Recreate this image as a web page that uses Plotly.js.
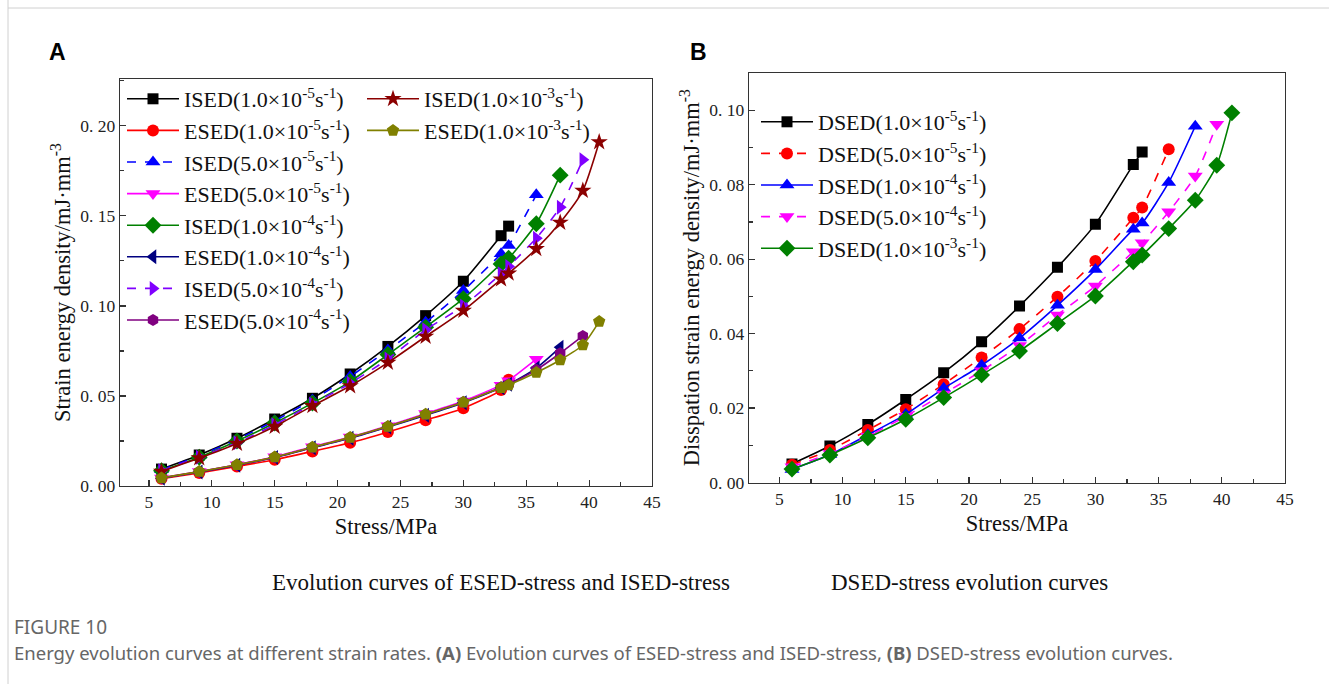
<!DOCTYPE html>
<html><head><meta charset="utf-8">
<script src="https://cdn.plot.ly/plotly-3.0.1.min.js"></script>
<style>html,body{margin:0;padding:0;background:#fff}#chart{width:1329px;height:684px}</style>
</head><body><div id="chart"></div>
<script>
// ---------- Panel A data (stress in MPa, strain energy density in mJ·mm^-3) ----------
const xA_1e5 = [6, 9, 12, 15, 18, 21, 24, 27, 30, 33, 33.6];
const xA_5e5 = [6, 9, 12, 15, 18, 21, 24, 27, 30, 33, 33.6, 35.8];
const xA_1e4 = [6, 9, 12, 15, 18, 21, 24, 27, 30, 33, 33.6, 35.8, 37.7];
const xA_5e4 = [6, 9, 12, 15, 18, 21, 24, 27, 30, 33, 33.6, 35.8, 37.7, 39.5];
const xA_1e3 = [6, 9, 12, 15, 18, 21, 24, 27, 30, 33, 33.6, 35.8, 37.7, 39.5, 40.8];

const ISED_1e5 = [0.0094, 0.0172, 0.0265, 0.0372, 0.0487, 0.0622, 0.0775, 0.0946, 0.1137, 0.1390, 0.1443];
const ESED_1e5 = [0.0040, 0.0072, 0.0108, 0.0146, 0.0192, 0.0240, 0.0300, 0.0365, 0.0432, 0.0533, 0.0590];
const ISED_5e5 = [0.0090, 0.0168, 0.0258, 0.0362, 0.0478, 0.0608, 0.0755, 0.0909, 0.1085, 0.1289, 0.1335, 0.1617];
const ESED_5e5 = [0.0045, 0.0080, 0.0118, 0.0162, 0.0218, 0.0272, 0.0335, 0.0402, 0.0472, 0.0560, 0.0585, 0.0704];
const ISED_1e4 = [0.0085, 0.0160, 0.0250, 0.0350, 0.0460, 0.0580, 0.0730, 0.0882, 0.1040, 0.1233, 0.1265, 0.1456, 0.1726];
const ESED_1e4 = [0.0043, 0.0078, 0.0115, 0.0158, 0.0212, 0.0265, 0.0328, 0.0393, 0.0462, 0.0545, 0.0565, 0.0655, 0.0770];
const ISED_5e4 = [0.0085, 0.0160, 0.0240, 0.0340, 0.0455, 0.0570, 0.0705, 0.0867, 0.1000, 0.1178, 0.1219, 0.1376, 0.1548, 0.1811];
const ESED_5e4 = [0.0044, 0.0079, 0.0117, 0.0160, 0.0214, 0.0268, 0.0331, 0.0397, 0.0466, 0.0548, 0.0565, 0.0645, 0.0737, 0.0833];
const ISED_1e3 = [0.0080, 0.0155, 0.0235, 0.0330, 0.0445, 0.0555, 0.0685, 0.0830, 0.0974, 0.1148, 0.1181, 0.1317, 0.1463, 0.1640, 0.1910];
const ESED_1e3 = [0.0045, 0.0080, 0.0118, 0.0161, 0.0215, 0.0270, 0.0331, 0.0398, 0.0465, 0.0546, 0.0561, 0.0630, 0.0700, 0.0783, 0.0913];

// ---------- Panel B data ----------
const xB_1e5 = [6, 9, 12, 15, 18, 21, 24, 27, 30, 33, 33.7];
const xB_5e5 = [6, 9, 12, 15, 18, 21, 24, 27, 30, 33, 33.7, 35.8];
const xB_1e4 = [6, 9, 12, 15, 18, 21, 24, 27, 30, 33, 33.7, 35.8, 37.9];
const xB_5e4 = [6, 9, 12, 15, 18, 21, 24, 27, 30, 33, 33.7, 35.8, 37.9, 39.6];
const xB_1e3 = [6, 9, 12, 15, 18, 21, 24, 27, 30, 33, 33.7, 35.8, 37.9, 39.6, 40.8];

const DSED_1e5 = [0.0050, 0.0098, 0.0156, 0.0223, 0.0295, 0.0378, 0.0474, 0.0578, 0.0694, 0.0854, 0.0888];
const DSED_5e5 = [0.0048, 0.0087, 0.0141, 0.0197, 0.0264, 0.0336, 0.0412, 0.0499, 0.0595, 0.0711, 0.0739, 0.0895];
const DSED_1e4 = [0.0035, 0.0075, 0.0128, 0.0183, 0.0253, 0.0315, 0.0388, 0.0476, 0.0572, 0.0680, 0.0697, 0.0806, 0.0957];
const DSED_5e4 = [0.0042, 0.0078, 0.0124, 0.0178, 0.0238, 0.0300, 0.0368, 0.0450, 0.0528, 0.0620, 0.0644, 0.0727, 0.0823, 0.0962];
const DSED_1e3 = [0.0036, 0.0074, 0.0120, 0.0170, 0.0228, 0.0289, 0.0353, 0.0427, 0.0501, 0.0593, 0.0611, 0.0682, 0.0758, 0.0852, 0.0993];

// ---------- ticks ----------
const xTicks = [5, 10, 15, 20, 25, 30, 35, 40, 45];
const yTicksA = [0, 0.05, 0.10, 0.15, 0.20];
const yTickTextA = ["0. 00", "0. 05", "0. 10", "0. 15", "0. 20"];
const yTicksB = [0, 0.02, 0.04, 0.06, 0.08, 0.10];
const yTickTextB = ["0. 00", "0. 02", "0. 04", "0. 06", "0. 08", "0. 10"];

const lab = (p, m, e) => `${p}(${m}×10<sup>-${e}</sup>s<sup>-1</sup>)`;

function tr(x, y, name, color, symbol, dash, xa, ya, legend, size) {
  return {
    type: 'scatter', mode: 'lines+markers', x: x, y: y, name: name,
    xaxis: xa, yaxis: ya, legend: legend,
    line: {color: color, width: 1.6, dash: dash, shape: 'spline', smoothing: 0.6},
    marker: {color: color, symbol: symbol, size: size || 12, line: {width: 0}}
  };
}

const data = [
  tr(xA_1e5, ISED_1e5, lab('ISED', '1.0', 5), '#000000', 'square', 'solid', 'x', 'y', 'legend', 11),
  tr(xA_1e5, ESED_1e5, lab('ESED', '1.0', 5), '#ff0000', 'circle', 'solid', 'x', 'y', 'legend', 12),
  tr(xA_5e5, ISED_5e5, lab('ISED', '5.0', 5), '#0000ff', 'triangle-up', 'dash', 'x', 'y', 'legend', 13),
  tr(xA_5e5, ESED_5e5, lab('ESED', '5.0', 5), '#ff00ff', 'triangle-down', 'solid', 'x', 'y', 'legend', 13),
  tr(xA_1e4, ISED_1e4, lab('ISED', '1.0', 4), '#008000', 'diamond', 'solid', 'x', 'y', 'legend', 13),
  tr(xA_1e4, ESED_1e4, lab('ESED', '1.0', 4), '#000080', 'triangle-left', 'solid', 'x', 'y', 'legend', 13),
  tr(xA_5e4, ISED_5e4, lab('ISED', '5.0', 4), '#8000ff', 'triangle-right', 'dash', 'x', 'y', 'legend', 13),
  tr(xA_5e4, ESED_5e4, lab('ESED', '5.0', 4), '#800080', 'hexagon', 'solid', 'x', 'y', 'legend', 12),
  tr(xA_1e3, ISED_1e3, lab('ISED', '1.0', 3), '#8b0000', 'star', 'solid', 'x', 'y', 'legend2', 13),
  tr(xA_1e3, ESED_1e3, lab('ESED', '1.0', 3), '#808000', 'pentagon', 'solid', 'x', 'y', 'legend2', 13),
  tr(xB_1e5, DSED_1e5, lab('DSED', '1.0', 5), '#000000', 'square', 'solid', 'x2', 'y2', 'legend3', 11),
  tr(xB_5e5, DSED_5e5, lab('DSED', '5.0', 5), '#ff0000', 'circle', 'dash', 'x2', 'y2', 'legend3', 12),
  tr(xB_1e4, DSED_1e4, lab('DSED', '1.0', 4), '#0000ff', 'triangle-up', 'solid', 'x2', 'y2', 'legend3', 13),
  tr(xB_5e4, DSED_5e4, lab('DSED', '5.0', 4), '#ff00ff', 'triangle-down', 'dash', 'x2', 'y2', 'legend3', 13),
  tr(xB_1e3, DSED_1e3, lab('DSED', '1.0', 3), '#008000', 'diamond', 'solid', 'x2', 'y2', 'legend3', 13)
];

const W = 1329, H = 684;
const px = v => v / W, py = v => 1 - v / H;
const serif = 'Liberation Serif, Times New Roman, serif';
const tickFont = {family: serif, size: 17.5, color: '#222'};
const titleFont = {family: serif, size: 22.5, color: '#111'};

function xaxisDef(d0, d1, r0, anchor) {
  return {
    domain: [px(d0), px(d1)], range: [r0, 45], anchor: anchor,
    tickmode: 'array', tickvals: xTicks, ticks: 'inside', ticklen: 6, tickwidth: 1.2, tickcolor: '#333',
    minor: {ticks: 'inside', ticklen: 4, tickwidth: 1.2, tickcolor: '#333', tick0: 2.5, dtick: 5},
    showline: true, mirror: true, linecolor: '#333', linewidth: 1.3, showgrid: false, zeroline: false,
    tickfont: tickFont,
    title: {text: 'Stress/MPa', font: titleFont, standoff: 7}
  };
}
function yaxisDef(d0, d1, r1, vals, text, minorD, anchor, title) {
  return {
    domain: [py(d1), py(d0)], range: [0, r1], anchor: anchor,
    tickmode: 'array', tickvals: vals, ticktext: text, ticks: 'inside', ticklen: 6, tickwidth: 1.2, tickcolor: '#333',
    minor: {ticks: 'inside', ticklen: 4, tickwidth: 1.2, tickcolor: '#333', tick0: minorD, dtick: 2 * minorD},
    showline: true, mirror: true, linecolor: '#333', linewidth: 1.3, showgrid: false, zeroline: false,
    tickfont: tickFont,
    title: {text: title, font: titleFont, standoff: 3}
  };
}

const legFont = {family: serif, size: 22, color: '#111'};
const legBase = {xanchor: 'left', yanchor: 'top', bgcolor: 'rgba(0,0,0,0)', font: legFont, tracegroupgap: 0, itemwidth: 52};
const layout = {
  width: W, height: H, margin: {l: 0, r: 0, t: 0, b: 0},
  paper_bgcolor: '#fff', plot_bgcolor: '#fff', showlegend: true,
  xaxis: xaxisDef(120, 652, 2.7, 'y'),
  yaxis: yaxisDef(79, 486, 0.226, yTicksA, yTickTextA, 0.025, 'x', 'Strain energy density/mJ·mm<sup>-3</sup>'),
  xaxis2: xaxisDef(749, 1285, 2.6, 'y2'),
  yaxis2: yaxisDef(73, 482.5, 0.11, yTicksB, yTickTextB, 0.01, 'x2', 'Disspation strain energy density/mJ·mm<sup>-3</sup>'),
  legend: Object.assign({x: px(122), y: py(78)}, legBase),
  legend2: Object.assign({x: px(362), y: py(78)}, legBase),
  legend3: Object.assign({x: px(756), y: py(101)}, legBase),
  shapes: [
    {type: 'line', xref: 'paper', yref: 'paper', x0: px(8), x1: px(8), y0: 0, y1: 1, line: {color: '#d0d0d0', width: 1}},
    {type: 'line', xref: 'paper', yref: 'paper', x0: px(8), x1: 1, y0: py(8), y1: py(8), line: {color: '#d0d0d0', width: 1}}
  ],
  annotations: [
    {text: '<b>A</b>', x: px(57), y: py(52), xanchor: 'center', yanchor: 'middle'},
    {text: '<b>B</b>', x: px(698), y: py(52), xanchor: 'center', yanchor: 'middle'},
    {text: 'Evolution curves of ESED-stress and ISED-stress', x: px(501), y: py(582), xanchor: 'center', yanchor: 'middle', font: {family: serif, size: 23, color: '#111'}},
    {text: 'DSED-stress evolution curves', x: px(969), y: py(582), xanchor: 'center', yanchor: 'middle', font: {family: serif, size: 23, color: '#111'}},
    {text: 'FIGURE 10', x: px(12), y: py(627), xanchor: 'left', yanchor: 'middle', font: {family: 'Noto Sans, sans-serif', size: 19, color: '#666'}},
    {text: 'Energy evolution curves at different strain rates. <b>(A)</b> Evolution curves of ESED-stress and ISED-stress, <b>(B)</b> DSED-stress evolution curves.', x: px(12), y: py(652), xanchor: 'left', yanchor: 'middle', font: {family: 'Noto Sans, sans-serif', size: 18.5, color: '#666'}}
  ].map(a => Object.assign({xref: 'paper', yref: 'paper', showarrow: false, font: {family: 'Liberation Sans, Arial, sans-serif', size: 23, color: '#000'}}, a))
};

Plotly.newPlot('chart', data, layout, {displayModeBar: false, staticPlot: true});
</script>
</body></html>
